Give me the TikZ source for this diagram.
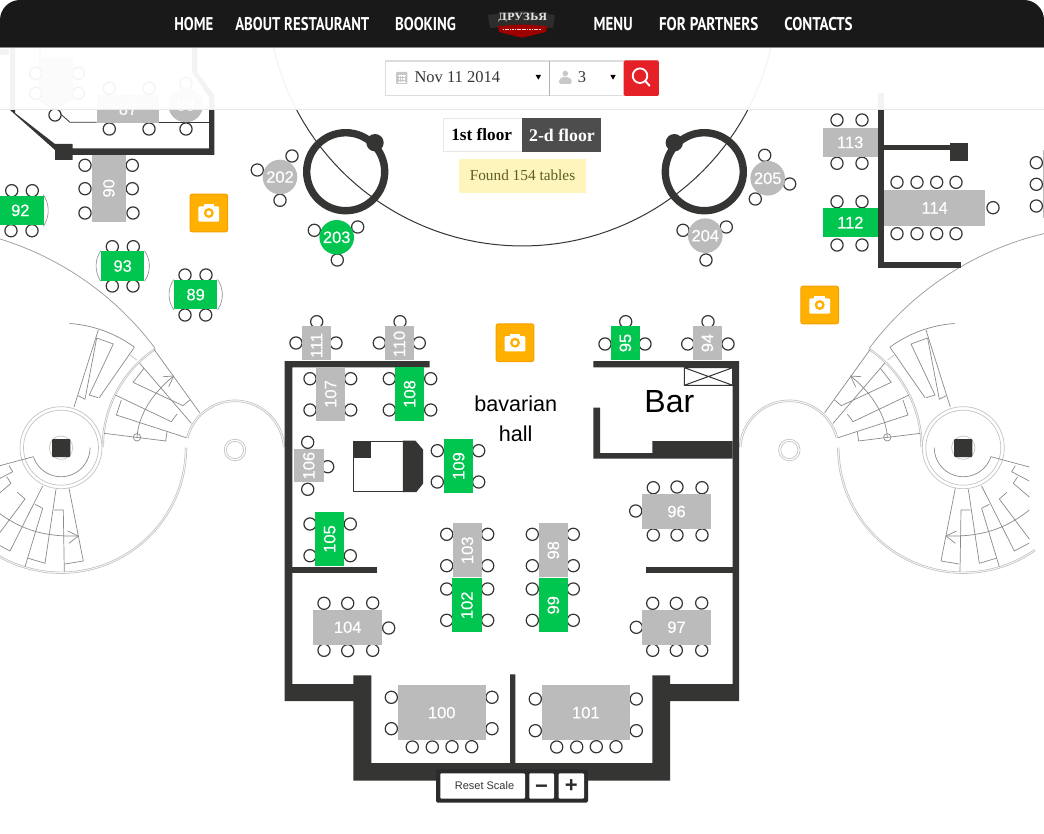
\documentclass[tikz,border=0pt]{standalone}
\usepackage{fontspec}
\usepackage{graphicx}
\setmainfont{Liberation Sans}
\newfontfamily\navf{PT Sans}
\newfontfamily\serf{Liberation Serif}
\newfontfamily\logof{DejaVu Serif}
\newfontfamily\labf[FakeBold=0.3]{Liberation Sans}
\definecolor{wallc}{HTML}{353533}
\definecolor{tgrey}{HTML}{BBBBBB}
\definecolor{tgreen}{HTML}{00C64F}
\definecolor{orangec}{HTML}{FFB000}
\definecolor{orangeb}{HTML}{F5A000}
\definecolor{headc}{HTML}{191919}
\definecolor{stepc}{HTML}{8A8A8A}
\definecolor{pale}{HTML}{C4C4C4}
\definecolor{iconc}{HTML}{C8C8C8}
\definecolor{boxb}{HTML}{DDDDDD}
\definecolor{redb}{HTML}{E52027}
\definecolor{yellowb}{HTML}{FDF5BB}
\definecolor{floorb}{HTML}{4D4D4D}
\definecolor{panelc}{HTML}{2B2B2B}
\tikzset{
  chairc/.style={draw=wallc,line width=1.2pt,fill=white},
  tlab/.style={text=white,inner sep=0pt,font=\labf\fontsize{16.5}{18}\selectfont},
  wallf/.style={fill=wallc},
  stepl/.style={draw=stepc,line width=.7pt,line join=round},
  palel/.style={draw=pale,line width=.7pt},
  navlab/.style={text=white,inner sep=0pt},
  serlab/.style={inner sep=0pt,font=\serf},
  camb/.style={fill=orangec,draw=orangeb,line width=1pt,rounded corners=2pt}
}
\newcommand\ch[2]{\draw[chairc] (#1,#2) circle[radius=6.1];}
\newcommand\tbl[8][0]{\fill[#6] (#2,#3) rectangle (#4,#5);
  \node[tlab,rotate=#8] (t#7) at ({(#2+#4)/2},{(#3+#5)/2+#1}) {#7};}
\newcommand\rtb[4]{\fill[#3] (#1,#2) circle[radius=17.3];
  \node[tlab] (t#4) at (#1,#2) {#4};}
\newcommand\arcp[6][palel]{\draw[#1] plot[variable=\t,domain=#5:#6,samples=70] ({#2+#4*cos(\t)},{#3+#4*sin(\t)});}
\newcommand\cam[2]{\draw[camb] ({#1-18.8},{#2-18.8}) rectangle ({#1+18.8},{#2+18.8});
  \fill[white,rounded corners=1pt] ({#1-10.4},{#2-6.5}) rectangle ({#1+10.4},{#2+8.7});
  \fill[white] ({#1-5.3},{#2-9}) rectangle ({#1+5.3},{#2-5});
  \fill[orangec] (#1,#2) circle[radius=5];
  \fill[white] (#1,#2) circle[radius=2.4];}
\newcommand\navt[4]{\node[navlab] (#1) at (#2,24) {\resizebox{#3pt}{13.2pt}{\navf\bfseries #4}};}
\newcommand\stairs{%
  \arcp[draw=pale!80!black,line width=.75pt]{-90.5}{531.9}{306.6}{-80}{-36.8}
  \arcp{61}{447.7}{125.8}{0}{125}
  \arcp{61}{447.7}{124.2}{0}{125}
  \arcp{220.6}{447}{118.5}{180}{236.4}
  \arcp{220.6}{447}{117}{180}{236.4}
  \arcp{235}{450}{50}{-166}{-3}
  \arcp{235}{450}{48.3}{-166}{-3}
  \draw[palel] (235,450) circle[radius=10.8];
  \draw[palel] (235,450) circle[radius=8.6];
  \draw[palel] (61,447.7) circle[radius=41];
  \draw[palel] (61,447.7) circle[radius=37.5];
  \draw[palel,fill=white] (61,447.7) circle[radius=11.7];
  \fill[wallc,rounded corners=1pt] (52,439) rectangle (70.3,457);
  \arcp[stepl]{61}{447.7}{29}{0}{162}
  \draw[stepl] (33.3,456.7) -- (-5,467);
  \arcp[stepl]{61}{447.7}{124.5}{-86}{-54}
  \draw[stepl] (98.3,330) -- (74,407);
  \draw[stepl] (96.7,338) -- (85,399.3) -- (78.3,395.7);
  \draw[stepl] (96.7,338) -- (113.3,344) -- (89.3,395) -- (98.3,397.7);
  \draw[stepl] (134.3,347.3) -- (99.3,397.7);
  \draw[palel] (130,355) -- (136.7,360);
  \draw[stepl] (154,349.3) -- (199.7,412.7);
  \draw[stepl] (139.7,363.3) -- (191.3,423.3);
  \draw[stepl] (144,368.3) -- (133,382.3) -- (183,405.7) -- (189.7,400);
  \draw[stepl] (115.3,395) -- (171.3,421.7) -- (177,414);
  \draw[stepl] (121.3,400) -- (116.3,415) -- (186.3,437.7);
  \draw[stepl] (104,433.3) -- (165.7,441) -- (167,431.7);
  \draw[stepl] (137,437.3) circle[radius=3.7];
  \draw[stepl] (137,437.3) .. controls (138,418) and (150,395) .. (173.7,376);
  \draw[stepl] (163,376.7) -- (173.7,376) -- (168.7,386.7);
  \draw[stepl] (9,465.7) -- (12.7,471.7) -- (-5,481);
  \draw[stepl] (6.7,476.7) -- (11,483.3) -- (-5,497);
  \draw[stepl] (17.3,492.3) -- (25,499) -- (-5,539);
  \draw[stepl] (42.7,486) -- (10,551) -- (-5,543);
  \draw[stepl] (35,504.3) -- (42.7,508.3) -- (25,566.7);
  \draw[stepl] (56,489.3) -- (45,563.3) -- (28.3,558.3);
  \draw[stepl] (54,510) -- (63.3,510) -- (64.3,571.7);
  \draw[stepl] (69,488.3) -- (83.3,561) -- (65,564);
  \draw[stepl] (-5,510) .. controls (20,530) and (45,537) .. (78.3,536);
  \draw[stepl] (67.7,531) -- (78.3,536) -- (69,543.3);
}
\begin{document}
\begin{tikzpicture}[x=1pt,y=-1pt]
\useasboundingbox (0,0) rectangle (1044,834);
\clip (0,0) rectangle (1044,834);
\fill[white] (0,0) rectangle (1044,834);
\stairs
\begin{scope}[xshift=1024.3pt,xscale=-1]
\stairs
\end{scope}
\arcp[draw=wallc,line width=1pt]{522.2}{-9}{255}{10}{170}
% hall walls
\fill[wallf] (284.7,361) -- (429.7,361) -- (429.7,367.3) -- (292.3,367.3) -- (292.3,684) -- (353.3,684) -- (353.3,675.3) -- (371.3,675.3) -- (371.3,763) -- (510,763) -- (510,674.3) -- (515.3,674.3) -- (515.3,763) -- (652.3,763) -- (652.3,675.3) -- (670,675.3) -- (670,684) -- (732.7,684) -- (732.7,367.3) -- (593.3,367.3) -- (593.3,361) -- (739,361) -- (739,701) -- (670,701) -- (670,780.7) -- (353.3,780.7) -- (353.3,701) -- (284.7,701) -- cycle;
\fill[wallf] (292.3,567.3) rectangle (377.3,573.3);
\fill[wallf] (645.7,567.3) rectangle (732.7,573.3);
\fill[wallf] (593.3,407.7) -- (600,407.7) -- (600,453) -- (652.3,453) -- (652.3,441) -- (732.7,441) -- (732.7,458.7) -- (593.3,458.7) -- cycle;
\draw[wallc,line width=1pt] (684.3,367.7) rectangle (732.7,385.3) (684.3,367.7) -- (732.7,385.3) (684.3,385.3) -- (732.7,367.7);
% top-left walls
\fill[wallf] (10,48) -- (15,48) -- (15,113) -- (55,144) -- (72.7,144) -- (72.7,148.3) -- (209,148.3) -- (209,97) -- (192,72) -- (192,48) -- (197,48) -- (197,72) -- (214.3,95) -- (214.3,155) -- (72.7,155) -- (72.7,160) -- (55,160) -- (55,150) -- (10,110) -- cycle;
\fill[wallf] (0,49) rectangle (9,55);
\draw[wallc,line width=.8pt] (40,48) -- (40,100) -- (61.7,115) -- (70,122.3) -- (96.7,122.3);
\draw[wallc,line width=.8pt] (159,122.3) -- (209,122.3);
% top-right walls
\fill[wallf] (877.7,92.7) rectangle (884.3,268.3);
\fill[wallf] (877.7,262.3) rectangle (961.3,268.3);
\fill[wallf] (884.3,145.3) rectangle (950.3,150);
\fill[wallf] (950.3,143.3) rectangle (968,161);
% columns
\draw[wallc,line width=7.4pt] (345.7,171.7) circle[radius=39];
\fill[wallc] (375,142.7) circle[radius=8.7];
\draw[wallc,line width=7.4pt] (704.3,171.7) circle[radius=39];
\fill[wallc] (674.3,142.7) circle[radius=8.7];
% bulges
\arcp[draw=stepc,line width=.6pt]{20.7}{210.5}{27.5}{-35}{35}
\arcp[draw=stepc,line width=.6pt]{122.7}{266}{26.6}{-35}{35}
\arcp[draw=stepc,line width=.6pt]{122.7}{266}{26.6}{145}{215}
\arcp[draw=stepc,line width=.6pt]{195.7}{294.7}{26.6}{-35}{35}
\arcp[draw=stepc,line width=.6pt]{195.7}{294.7}{26.6}{145}{215}
% chairs
\foreach \a/\b in {
 316.7/321.7,296/343,336/343, 400/321.7,379.3/343,419.3/343,
 625.7/321.7,605/344,645/344, 708/321.7,687.7/344,728/344,
 310/378.7,310/410,350.7/378.7,350.7/410,
 389.3/378.7,389.3/410,430.7/378.7,430.7/410,
 307.7/442.3,307.7/489.3,327.7/466.7,
 437.3/450.7,437.3/482,478.7/450.7,478.7/482,
 310/524,310/555.7,350.3/524,350.3/555.7,
 446.7/534.3,446.7/565.7,487.7/534.3,487.7/565.7,
 532.3/534.3,532.3/565.7,573.3/534.3,573.3/565.7,
 446.7/589,446.7/620.3,487.7/589,487.7/620.3,
 532.3/589,532.3/620.3,573.3/589,573.3/620.3,
 653.3/487.7,677/487,702/487.7,653.3/535,677/535,702/535,635.7/511,
 652.7/603.3,676.3/603.3,701.7/603,652.7/650.3,676.3/650.3,701.7/650.3,636.3/627.3,
 324/603.3,347.7/603.3,372.7/603,324/650.3,347.7/650.7,372.7/650.3,388.7/628,
 391.3/697.3,391.3/728.7,492/697.3,492/728.7,412.3/747,432.3/747,452/746.7,471.7/746.7,
 535.3/699,535.3/730.7,636.3/699,636.3/730.7,556.7/747,576.7/747,596.3/746.7,616/746.7,
 85/165.3,85/188.7,85/213,132.3/165.3,132.3/188.7,133/213,
 11.7/190.7,32.3/190.7,11/230.7,32/230.7,
 112.3/246.7,133.3/246.7,112.3/286,133/286,
 185/275,206/275,185/315,205.7/315,
 292/156,257.3/170,280/200.3,
 357.7/227,314.3/230.3,337.3/260,
 764.7/155.3,789.7/184,755.3/199,
 726.3/227,683/230.3,706/260,
 837/120,862/120,837/163.3,862/163.3,
 837/201.7,862/201.7,837/245,862/245,
 897/182.3,917/182.3,936.7/182.3,956/182.3,
 897/233.7,917/233.7,936.7/233.7,956/233.7,993/207.7,
 1036.3/162.7,1036.3/184.3,1036.3/206,
 109.3/88.3,149/88.3,109.3/129,149/129,186/83.3,186/129,55/115,
 35.7/73.3,78.3/73.3,35.7/93.3,78.3/93.3}{\ch{\a}{\b}}
% tables
\tbl[2.5]{302}{326}{331.3}{360}{tgrey}{111}{90}
\tbl[1]{384.7}{326}{414}{360}{tgrey}{110}{90}
\tbl{610.7}{326}{640}{360}{tgreen}{95}{90}
\tbl{692.7}{326}{722}{360}{tgrey}{94}{90}
\tbl{316}{367.3}{345.3}{420.7}{tgrey}{107}{90}
\tbl{395}{367.3}{424.3}{420.7}{tgreen}{108}{90}
\tbl{294}{449}{323.7}{482.3}{tgrey}{106}{90}
\tbl{444}{439}{473.3}{493}{tgreen}{109}{90}
\tbl{315}{512}{344.3}{566}{tgreen}{105}{90}
\tbl{452.7}{523.3}{482}{577.3}{tgrey}{103}{90}
\tbl{538.7}{523.3}{568}{577.3}{tgrey}{98}{90}
\tbl{452}{578.3}{482}{632.3}{tgreen}{102}{90}
\tbl{538.7}{578.3}{568}{632.3}{tgreen}{99}{90}
\tbl{642}{494}{711}{529}{tgrey}{96}{0}
\tbl{642}{609.7}{711}{644.7}{tgrey}{97}{0}
\tbl{313.3}{609.7}{382}{644.7}{tgrey}{104}{0}
\tbl{397.7}{685.3}{485.7}{740}{tgrey}{100}{0}
\tbl{541.7}{685.3}{630}{740}{tgrey}{101}{0}
\tbl{91.7}{155}{126}{221.7}{tgrey}{90}{90}
\tbl{-3}{195.7}{43.7}{225}{tgreen}{92}{0}
\tbl{101}{251}{144.3}{281}{tgreen}{93}{0}
\tbl{174}{280}{217.3}{309.3}{tgreen}{89}{0}
\tbl{822.7}{128}{877.7}{156.7}{tgrey}{113}{0}
\tbl{823}{207.7}{877.7}{237.3}{tgreen}{112}{0}
\tbl{884.3}{189.7}{985}{226}{tgrey}{114}{0}
\tbl{96.7}{95}{159.3}{123.3}{tgrey}{87}{0}
\fill[tgrey] (41.7,58) -- (72.7,58) -- (72.7,100) -- (57,108) -- (41.7,100) -- cycle;
\fill[tgrey] (1042.7,150) rectangle (1044,218);
\rtb{185.7}{105}{tgrey}{88}
\rtb{280}{177}{tgrey}{202}
\rtb{336.7}{237.3}{tgreen}{203}
\rtb{705.3}{235.7}{tgrey}{204}
\rtb{767.7}{178.3}{tgrey}{205}
% hall object
\draw[wallc,line width=1pt,fill=white] (353.3,441) rectangle (403.3,491.7);
\fill[wallc] (353.3,441) rectangle (371.3,458.3);
\draw[wallc,line width=1pt,fill=wallc] (403.3,441) -- (415,441) -- (422.7,450) -- (422.7,483.3) -- (416,491.7) -- (403.3,491.7) -- cycle;
% cameras
\cam{208.8}{213}
\cam{515}{342.7}
\cam{819.7}{305}
% hall labels
\node[inner sep=0pt,font=\fontsize{21.6}{24}\selectfont] (bav) at (515.7,403.3) {bavarian};
\node[inner sep=0pt,font=\fontsize{21.6}{24}\selectfont] (hall) at (515.7,433.3) {hall};
\node[inner sep=0pt,font=\fontsize{32}{36}\selectfont] (bar) at (669.3,402) {Bar};
% veil under the header
\fill[white,opacity=.94] (0,48) rectangle (1044,110);
\draw[boxb!70!white,line width=1.3pt] (0,109.8) -- (1044,109.8);
% header
\begin{scope}
\clip (0,0) rectangle (1044,47.3);
\fill[headc,rounded corners=20pt] (0,0) rectangle (1044,80);
\end{scope}
\draw[stepc,line width=.7pt] (0,47.6) -- (1044,47.6);
\navt{nhome}{193.8}{39}{HOME}
\navt{nabout}{302.3}{134}{ABOUT RESTAURANT}
\navt{nbook}{425.5}{61}{BOOKING}
\navt{nmenu}{613.2}{39}{MENU}
\navt{npart}{708.7}{99.3}{FOR PARTNERS}
\navt{ncont}{818.5}{68.4}{CONTACTS}
% logo
\fill[wallc!85!black] (488,15) -- (522,11) -- (555,15) -- (553,28) -- (522,25) -- (490,28) -- cycle;
\fill[red!62!black] (498,26) -- (522,24.5) -- (547,26) -- (546,32) -- (522,37.7) -- (499,32) -- cycle;
\draw[white!85!red,line width=1pt,dash pattern=on 1.2pt off .5pt] (503,30) -- (541,30);
\node[inner sep=0pt,text=white!90!black] (logo) at (522.7,18) {\resizebox{49pt}{7.4pt}{\logof\bfseries ДРУЗЬЯ}};
% search bar
\draw[boxb,line width=1.3pt,fill=white] (385.3,61) rectangle (658.3,95.7);
\draw[boxb!80!black,line width=1pt] (549.3,61) -- (549.3,95.7);
\fill[redb,rounded corners=1.5pt] (623.7,60.4) rectangle (658.8,96);
\draw[white,line width=1.8pt] (640,75.7) circle[radius=7.3];
\draw[white,line width=2pt,line cap=round] (645.3,81) -- (649.5,85.7);
\fill[iconc,rounded corners=.8pt] (396,72) rectangle (407.3,84);
\fill[white] (397.5,75.5) rectangle (405.8,82.7);
\foreach \a in {398.3,400.6,402.9,405}{\draw[iconc,line width=.9pt] (\a,76) -- (\a,82.5);}
\foreach \b in {77.8,80.2}{\draw[iconc,line width=.9pt] (397.5,\b) -- (405.8,\b);}
\node[serlab,text=wallc,anchor=west,font=\serf\fontsize{16.5}{20}\selectfont] (dat) at (414.3,77) {Nov 11 2014};
\node[serlab,text=wallc,font=\serf\fontsize{16.5}{20}\selectfont] (num) at (582,77) {3};
\fill[black] (535.7,75) -- (541,75) -- (538.3,79.7) -- cycle;
\fill[black] (610.4,75) -- (615.7,75) -- (613,79.7) -- cycle;
\fill[iconc] (565.3,73.5) circle[radius=2.8];
\fill[iconc,rounded corners=1.5pt] (559,84) -- (559,79.5) -- (562.5,77) -- (568,77) -- (571.7,79.5) -- (571.7,84) -- cycle;
% floors
\draw[boxb!70!white,line width=1pt,fill=white] (443.3,118.3) rectangle (522.3,151.7);
\fill[floorb] (522.3,118) rectangle (601.3,152);
\node[serlab,text=black,font=\serf\bfseries\fontsize{17.2}{20}\selectfont] (f1) at (481.7,135) {1st floor};
\node[serlab,text=white,font=\serf\bfseries\fontsize{17.8}{20}\selectfont] (f2) at (562,135) {2-d floor};
\fill[yellowb] (459.3,159) rectangle (585.7,192.7);
\node[serlab,text=wallc!80!yellow,font=\serf\fontsize{15.3}{18}\selectfont] (found) at (522.5,175) {Found 154 tables};
% scale panel
\fill[panelc,rounded corners=1.5pt] (436,769.3) rectangle (588,802.7);
\fill[white,rounded corners=1pt] (440.3,773.3) rectangle (525,798.7);
\fill[white,rounded corners=1pt] (529.3,773.3) rectangle (554,798.7);
\fill[white,rounded corners=1pt] (558.7,773.3) rectangle (584,798.7);
\node[inner sep=0pt,text=wallc,font=\fontsize{11}{14}\selectfont] (rst) at (484.5,786) {Reset Scale};
\node[inner sep=0pt,text=panelc,font=\bfseries\fontsize{22}{24}\selectfont] (mns) at (541.6,789.5) {−};
\node[inner sep=0pt,text=panelc,font=\bfseries\fontsize{22}{24}\selectfont] (pls) at (571.2,786.5) {+};
\end{tikzpicture}
\end{document}
